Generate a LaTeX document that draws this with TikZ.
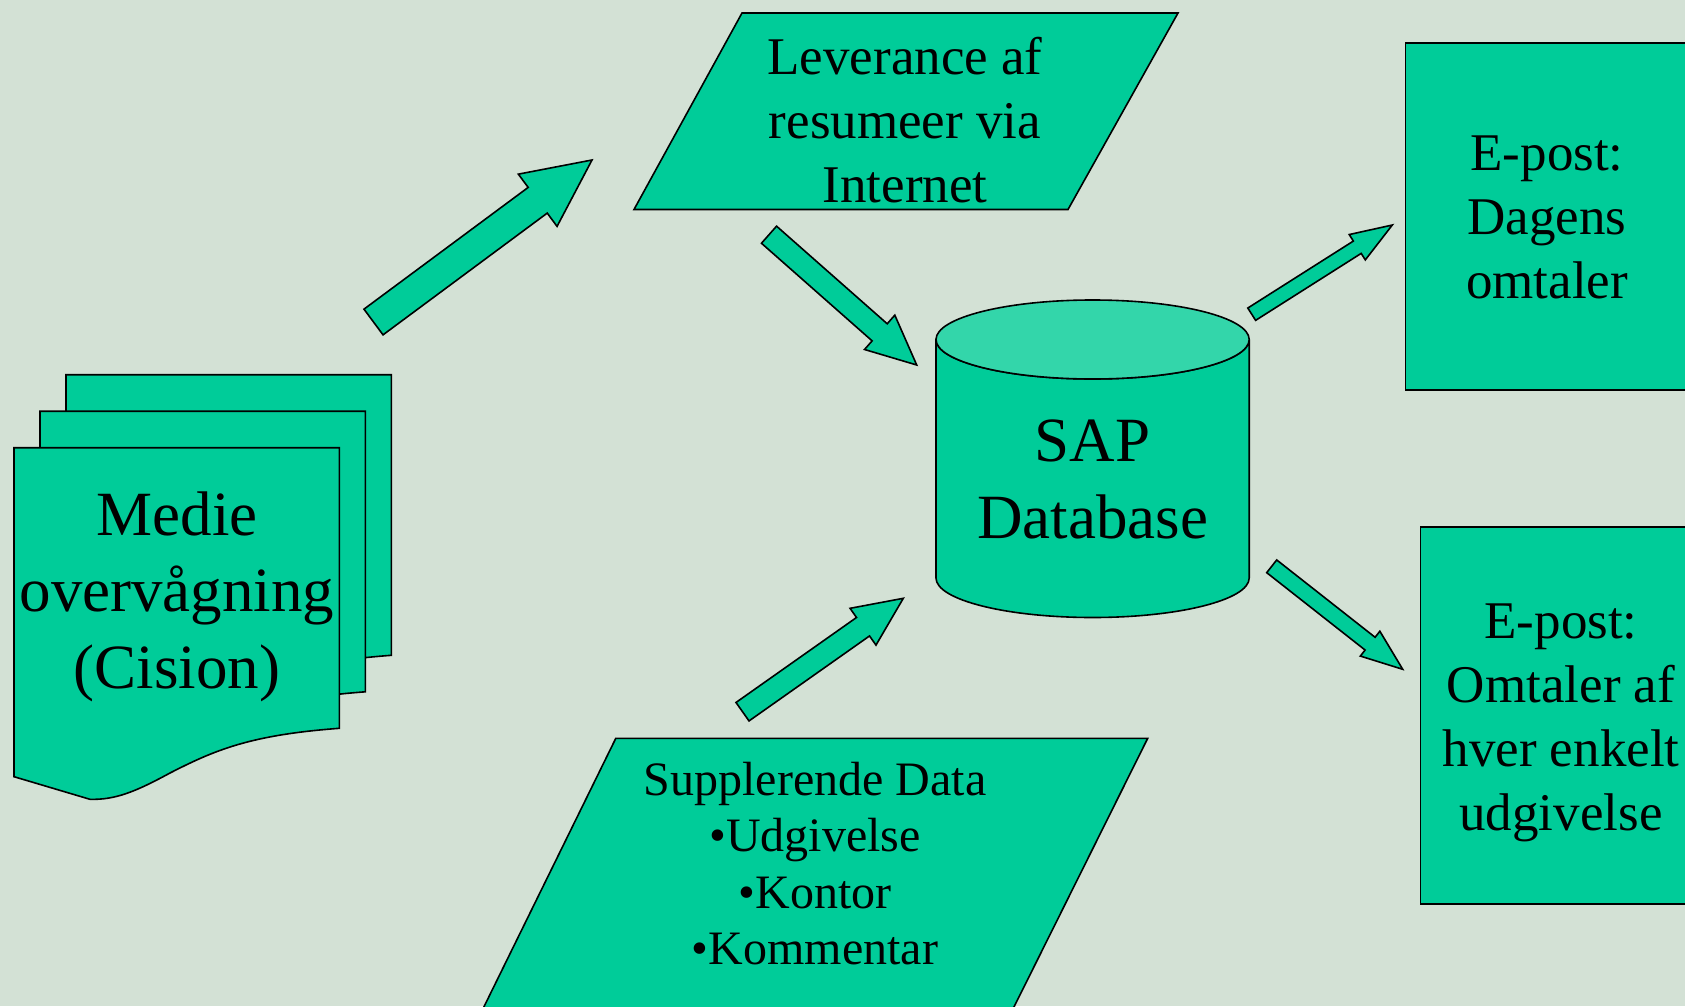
\documentclass[tikz,border=0pt]{standalone}
\usepackage{fontspec}
\setmainfont{Liberation Serif}
\usepackage{tikz}
\usetikzlibrary{calc}
\definecolor{mybg}{RGB}{211,225,213}
\definecolor{mygreen}{RGB}{0,204,153}
\definecolor{mylight}{RGB}{51,214,170}

% block arrow: tail, tip, half shaft, half head, head length
\newcommand{\blockarrow}[5]{%
    \coordinate (hb) at ($(#2)!#5!(#1)$);
    \draw[flowarrow] ($(#1)!#3!90:(#2)$) -- ($(hb)!#3!90:(#2)$) -- ($(hb)!#4!90:(#2)$) -- (#2)
        -- ($(hb)!#4!-90:(#2)$) -- ($(hb)!#3!-90:(#2)$) -- ($(#1)!#3!-90:(#2)$) -- cycle;
}

\begin{document}
\begin{tikzpicture}[x=0.5pt, y=-0.5pt,
    box/.style={draw=black, fill=mygreen, line width=0.8pt},
    flowarrow/.style={draw=black, fill=mygreen, line width=0.8pt, line join=miter},
    txt/.style={align=center, inner sep=0pt, anchor=base}]
    \useasboundingbox (0,0) rectangle (1685,1006);
    \fill[mybg] (0,0) rectangle (1685,1006);
    \clip (0,0) rectangle (1685,1006);

    % stack of documents
    \foreach \dx/\dy in {52/-73, 26/-36.5, 0/0}
        \draw[box, shift={(\dx,\dy)}] (14,447.7) -- (339.3,447.7) -- (339.3,728.3)
            .. controls (250,735) and (215,750) .. (170,773)
            .. controls (135,792) and (115,800) .. (90,799.3) -- (14,776.7) -- cycle;
    % (base anchor is the last line)
    \node[txt, font=\fontsize{31.5}{38.25}\selectfont] (medie) at (177,688) {Medie\\overvågning\\(Cision)};

    % Leverance
    \draw[box] (742,13) -- (1178,13) -- (1068,209.5) -- (634,209.5) -- cycle;
    \node[txt, font=\fontsize{26.5}{32}\selectfont] (lev) at (905,202.5) {Leverance af\\resumeer via\\Internet};

    % database
    \draw[box] (936,339.5) -- (936,578) arc[start angle=180, end angle=0, x radius=156.6, y radius=39.5]
        -- (1249.2,339.5) arc[start angle=0, end angle=180, x radius=156.6, y radius=39.5] -- cycle;
    \draw[box, fill=mylight] (1092.6,339.5) ellipse [x radius=156.6, y radius=39.5];
    \node[txt, font=\fontsize{31.5}{38.25}\selectfont] (sap) at (1092.6,538) {SAP\\Database};

    % Supplerende
    \draw[box] (615.8,738.3) -- (1147.7,738.3) -- (1005,1025) -- (475,1025) -- cycle;
    \node[txt, font=\fontsize{24}{28.25}\selectfont] (supp) at (815,964.5) {Supplerende Data\\•Udgivelse\\•Kontor\\•Kommentar};

    % mails
    \draw[box] (1405.5,43) rectangle (1700,390);
    \node[txt, font=\fontsize{26.5}{32}\selectfont] (dagens) at (1547,298.3) {E-post:\\Dagens\\omtaler};
    \draw[box] (1420.5,526.7) rectangle (1700,904);
    \node[txt, font=\fontsize{26.5}{32}\selectfont] (omtaler) at (1561,830) {E-post:\\Omtaler af\\hver enkelt\\udgivelse};

    % arrows
    \coordinate (medieout) at (373.5,322);
    \coordinate (levin) at (592,160);
    \coordinate (levout) at (769,234.7);
    \coordinate (sapin) at (916.7,365);
    \coordinate (sapout) at (1251.7,314.2);
    \coordinate (dagensin) at (1392.3,225);
    \coordinate (sapdown) at (1271.7,566.3);
    \coordinate (omtalerin) at (1402.7,669.3);
    \coordinate (suppout) at (742.5,711.7);
    \coordinate (sapbelow) at (903.3,598.3);
    \blockarrow{medieout}{levin}{8pt}{16.25pt}{33.8pt}
    \blockarrow{levout}{sapin}{5.7pt}{11.45pt}{24.7pt}
    \blockarrow{sapout}{dagensin}{3.65pt}{7.5pt}{20.75pt}
    \blockarrow{sapdown}{omtalerin}{4.05pt}{7.9pt}{20.75pt}
    \blockarrow{suppout}{sapbelow}{5.65pt}{11.25pt}{24.65pt}
\end{tikzpicture}
\end{document}
